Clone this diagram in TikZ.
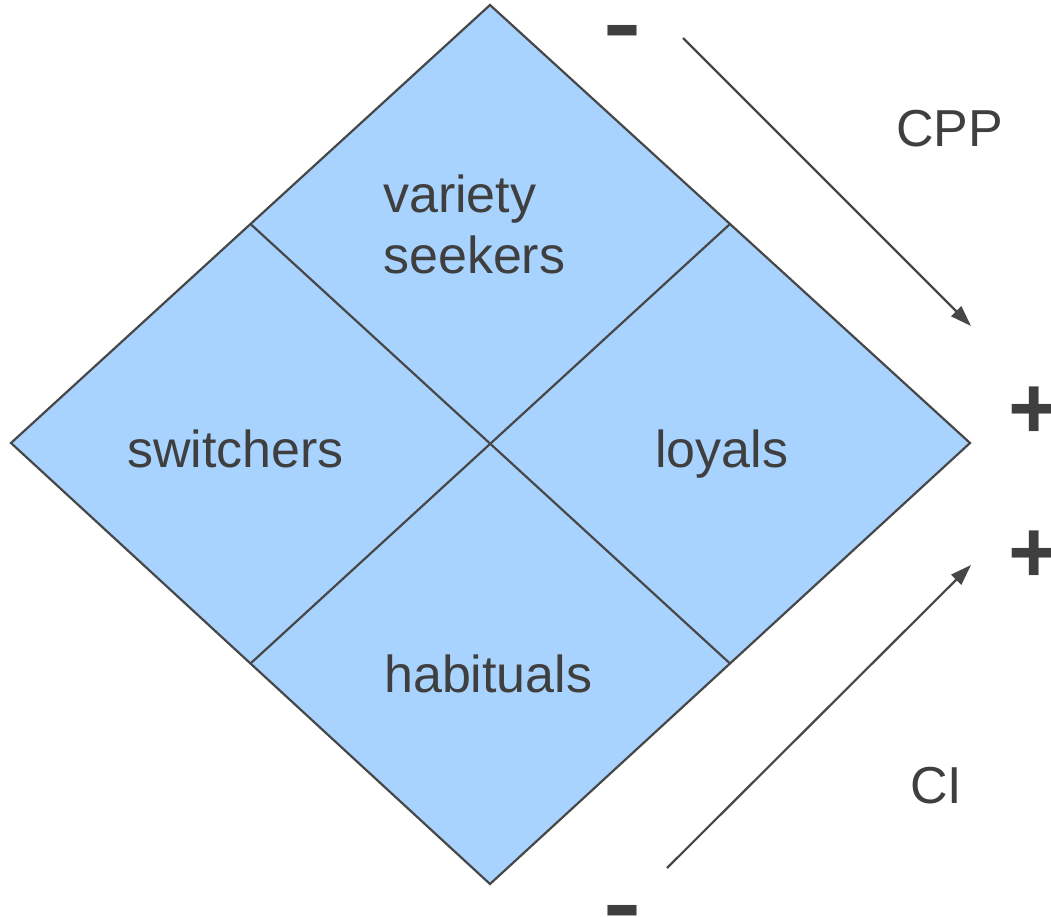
\documentclass[tikz,border=0pt]{standalone}
\usepackage{fontspec}
\setmainfont{Liberation Sans}
\usetikzlibrary{arrows.meta}
\definecolor{cellfill}{HTML}{A9D3FF}
\definecolor{edge}{HTML}{474747}
\definecolor{txt}{HTML}{3F3F3F}
\begin{document}
\begin{tikzpicture}[x=1pt,y=-1pt,
  cell/.style={fill=cellfill,draw=edge,line width=2.2pt,line join=miter},
  lbl/.style={text=txt,inner sep=0pt,anchor=base west,font=\fontsize{52}{61}\selectfont},
  sign/.style={text=txt,inner sep=0pt,font=\bfseries\fontsize{88}{88}\selectfont},
  axis/.style={draw=edge,line width=2.2pt,-{Triangle[length=21pt,width=14pt]}}]
\useasboundingbox (0,0) rectangle (1051,917);
% diamond corners
\coordinate (T) at (490,5);
\coordinate (L) at (11,443);
\coordinate (R) at (970,443);
\coordinate (B) at (490,884);
\coordinate (TL) at (250.5,224);
\coordinate (TR) at (730,224);
\coordinate (BL) at (250.5,663.5);
\coordinate (BR) at (730,663.5);
\filldraw[cell] (T) -- (R) -- (B) -- (L) -- cycle;
\draw[cell,fill=none] (TL) -- (BR);
\draw[cell,fill=none] (TR) -- (BL);
% labels
\node[lbl,align=left] (vs) at (383,273) {variety\\seekers};
\node[lbl] (sw) at (127,467) {switchers};
\node[lbl] (lo) at (655,467) {loyals};
\node[lbl] (ha) at (384,692) {habituals};
\node[lbl] (cpp) at (896,147) {CPP};
\node[lbl] (ci) at (910,803) {CI};
% signs
\node[sign,xscale=1.3] (m1) at (623,39) {-};
\node[sign] (p1) at (1034,413) {+};
\node[sign] (p2) at (1034,557) {+};
\node[sign,xscale=1.3] (m2) at (623,919) {-};
% axes
\coordinate (a1s) at (683,38);
\coordinate (a1e) at (971,326);
\coordinate (a2s) at (667,868);
\coordinate (a2e) at (971,565);
\draw[axis] (a1s) -- (a1e);
\draw[axis] (a2s) -- (a2e);
\end{tikzpicture}
\end{document}
